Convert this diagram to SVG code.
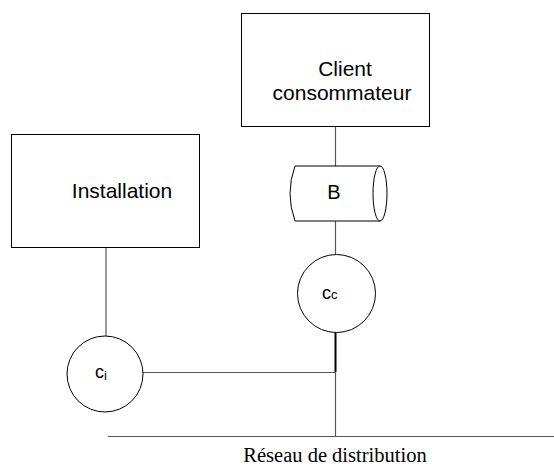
<svg xmlns="http://www.w3.org/2000/svg" width="554" height="471" viewBox="0 0 554 471">
<style>
.box{fill:#fff;stroke:#000;stroke-width:1}
.ln{fill:none;stroke:#555;stroke-width:1.2}
.sans{font-family:"Liberation Sans",Arial,sans-serif;fill:#000}
.serif{font-family:"Liberation Serif","Times New Roman",serif;fill:#000}
</style>
<rect width="554" height="471" fill="#fff"/>
<g id="connectors">
<line class="ln" x1="335.5" y1="126" x2="335.5" y2="166"/>
<line class="ln" x1="335.5" y1="221" x2="335.5" y2="254"/>
<line class="ln" x1="335.5" y1="372" x2="335.5" y2="436"/>
<line x1="335.5" y1="332" x2="335.5" y2="372" stroke="#000" stroke-width="2"/>
<line class="ln" x1="106" y1="247" x2="106" y2="336"/>
<line class="ln" x1="143" y1="372.5" x2="336" y2="372.5"/>
<line class="ln" x1="108" y1="436.5" x2="554" y2="436.5"/>
</g>
<g id="client">
<rect class="box" x="241.5" y="13.5" width="188" height="113"/>
<text class="sans" x="345" y="76" font-size="21" text-anchor="middle">Client</text>
<text class="sans" x="342" y="100" font-size="21" text-anchor="middle">consommateur</text>
</g>
<g id="installation">
<rect class="box" x="11.5" y="134.5" width="188" height="113"/>
<text class="sans" x="122" y="198" font-size="21" text-anchor="middle">Installation</text>
</g>
<g id="B">
<path class="box" d="M295,166 L380,166 L380,221 L295,221 Q285,193.5 295,166 Z"/>
<ellipse class="box" cx="380" cy="193.5" rx="7" ry="27.5"/>
<text class="sans" x="334" y="199" font-size="20" text-anchor="middle">B</text>
</g>
<g id="Cc">
<circle class="box" cx="336.5" cy="293.5" r="39"/>
<text class="sans" x="322" y="298.7" font-size="18">c<tspan font-size="13">c</tspan></text>
</g>
<g id="Ci">
<circle class="box" cx="105" cy="374" r="38"/>
<text class="sans" x="95" y="378.3" font-size="18">c<tspan font-size="13" dy="2">i</tspan></text>
</g>
<g id="label">
<text class="serif" x="335" y="461.5" font-size="20.5" text-anchor="middle">Réseau de distribution</text>
</g>
</svg>
